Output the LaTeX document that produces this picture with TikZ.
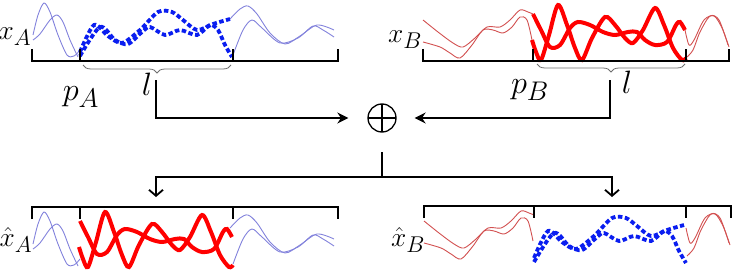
\RequirePackage{fix-cm}
\documentclass[tikz,border=0pt]{standalone}
\usepackage{graphicx}
\usetikzlibrary{arrows.meta,decorations.pathreplacing}
\definecolor{thinblue}{RGB}{130,130,220}
\definecolor{thinred}{RGB}{210,80,80}
\definecolor{thkred}{RGB}{255,0,0}
\definecolor{thkblue}{RGB}{10,30,240}
\definecolor{bracegray}{RGB}{110,110,110}
\tikzset{
 thinb/.style={draw=thinblue, line width=0.9pt},
 thinr/.style={draw=thinred, line width=0.9pt},
 thickr/.style={draw=thkred, line width=4pt},
 dashb/.style={draw=thkblue, line width=3.8pt, dash pattern=on 4.5pt off 2.5pt},
 bar/.style={line width=2.4pt, line cap=butt},
 conn/.style={line width=1.8pt},
 lbl/.style={inner sep=0pt, font=\Huge},
 vlbl/.style={inner sep=0pt, font=\Huge},
 brc/.style={draw=bracegray, line width=0.8pt, decorate, decoration={brace, mirror, amplitude=8pt}},
 hopen/.style={-{Stealth[length=11pt,width=11pt]}},
 vopen/.style={-{Straight Barb[length=6pt,width=14pt]}},
}
\newcommand{\wavAthinL}{%
 \draw[thinb] plot[smooth] coordinates {(33,35) (38,15) (44,3) (50,12) (58,35) (67,55) (74,56) (80,50)};
 \draw[thinb] plot[smooth] coordinates {(33,40) (40,34) (50,20) (57,15) (63,22) (70,40) (78,57)};}
\newcommand{\wavAthinR}{%
 \draw[thinb] plot[smooth] coordinates {(233,55) (243,30) (252,20) (262,28) (280,43) (298,38) (313,26) (323,30) (334,37)};
 \draw[thinb] plot[smooth] coordinates {(230,19) (240,9) (248,6) (257,14) (270,33) (285,44) (300,36) (317,25) (334,30)};}
\newcommand{\wavAdash}{%
 \draw[dashb] plot[smooth] coordinates {(80,52) (94,25) (108,36) (122,43) (140,30) (158,12) (172,12) (183,20) (197,30) (213,24) (230,19)};
 \draw[dashb] plot[smooth] coordinates {(80,56) (100,27) (115,40) (128,44) (142,32) (150,27) (165,35) (180,30) (197,35) (210,25) (218,30) (225,45) (232,57)};}
\newcommand{\wavBthinL}{%
 \draw[thinr] plot[smooth] coordinates {(423,20) (438,32) (453,43) (463,47) (475,38) (487,27) (500,27) (510,20) (520,10) (528,12) (533,14)};
 \draw[thinr] plot[smooth] coordinates {(423,42) (440,47) (450,53) (460,58) (472,45) (483,30) (493,30) (503,33) (512,27) (520,17) (527,20) (532,40)};}
\newcommand{\wavBthinR}{%
 \draw[thinr] plot[smooth] coordinates {(686,58) (693,50) (700,32) (710,16) (719,20) (728,45)};
 \draw[thinr] plot[smooth] coordinates {(685,30) (689,45) (694,40) (704,20) (714,16) (722,28) (729,47)};}
\newcommand{\wavBred}{%
 \draw[thickr] plot[smooth] coordinates {(532,40) (536,52) (541,60) (549,35) (558,5) (567,25) (575,48) (582,60) (592,38) (605,17) (615,25) (625,38) (633,43) (643,30) (655,8) (664,25) (673,48) (682,60) (686,58)};
 \draw[thickr] plot[smooth] coordinates {(533,14) (541,30) (550,47) (560,45) (570,28) (578,22) (590,25) (603,32) (615,35) (628,32) (637,32) (645,40) (655,45) (667,42) (676,25) (680,22) (685,30)};}
\begin{document}
\begin{tikzpicture}[x=1pt,y=-1pt]
\useasboundingbox (0,0) rectangle (735,270);
% top A waves
\wavAthinL
\wavAthinR
\wavAdash
% top B waves
\wavBthinL
\wavBthinR
\wavBred
% bottom A waves
\begin{scope}[shift={(0,209)}]
 \wavAthinL
 \wavAthinR
\end{scope}
\begin{scope}[shift={(-453,207)}]
 \wavBred
\end{scope}
% bottom B waves
\begin{scope}[shift={(1,201)}]
 \wavBthinL
\end{scope}
\begin{scope}[shift={(1,198)}]
 \wavBthinR
\end{scope}
\begin{scope}[shift={(454,206)}]
 \wavAdash
\end{scope}
% bars
\draw[bar] (32,49) -- (32,61) -- (338,61) -- (338,49);
\draw[bar] (80,61) -- (80,49);
\draw[bar] (233,61) -- (233,49);
\draw[bar] (423,49) -- (423,61) -- (729,61) -- (729,49);
\draw[bar] (533,61) -- (533,49);
\draw[bar] (686,61) -- (686,49);
\draw[bar] (32,219) -- (32,207) -- (338,207) -- (338,219);
\draw[bar] (80,207) -- (80,219);
\draw[bar] (233,207) -- (233,219);
\draw[bar] (424,218) -- (424,206) -- (731,206) -- (731,218);
\draw[bar] (534,206) -- (534,218);
\draw[bar] (686,206) -- (686,218);
% braces
\draw[brc] (83,65) -- (231,65);
\draw[brc] (537,64) -- (685,64);
% labels
\node[vlbl] (xA) at (15,37) {\scalebox{1.1}{$x_A$}};
\node[vlbl] (xB) at (405,40) {\scalebox{1.1}{$x_B$}};
\node[vlbl] (xhA) at (16,240) {\scalebox{1.1}{$\hat{x}_A$}};
\node[vlbl] (xhB) at (408,240) {\scalebox{1.1}{$\hat{x}_B$}};
\node[lbl] (pA) at (81,97) {\scalebox{1.3}{$p_A$}};
\node[lbl] (lA) at (147,84) {\scalebox{1.3}{$l$}};
\node[lbl] (pB) at (530,90) {\scalebox{1.3}{$p_B$}};
\node[lbl] (lB) at (627,82) {\scalebox{1.3}{$l$}};
% operator
\node[draw, circle, line width=1.3pt, minimum size=28pt, inner sep=0pt,
  path picture={\draw[line width=1.3pt] (path picture bounding box.north) -- (path picture bounding box.south)
  (path picture bounding box.west) -- (path picture bounding box.east);}] (op) at (382,118) {};
% connectors
\coordinate (lAtop) at (156,80);
\coordinate (lBtop) at (610,80);
\coordinate (stem) at (382,152);
\coordinate (split) at (382,177);
\coordinate (dA) at (156,197);
\coordinate (dB) at (612,197);
\draw[conn, hopen, shorten >=19pt] (lAtop) |- (op.west);
\draw[conn, hopen, shorten >=18pt] (lBtop) |- (op.east);
\draw[conn] (stem) -- (split);
\draw[conn, vopen] (split) -| (dA);
\draw[conn, vopen] (split) -| (dB);
\end{tikzpicture}
\end{document}
